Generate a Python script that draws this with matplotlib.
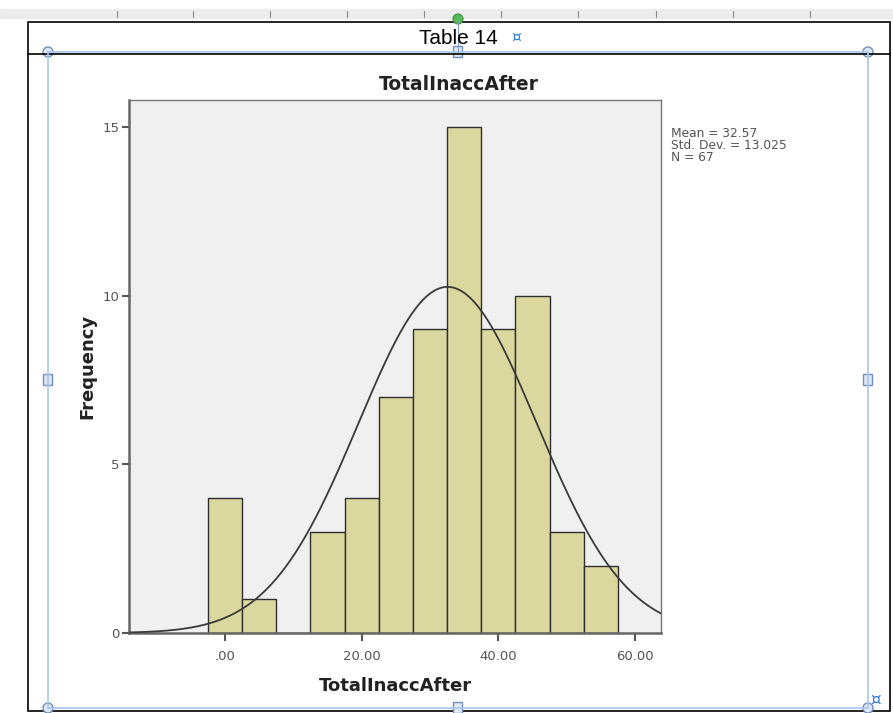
import numpy as np
import matplotlib
matplotlib.use("Agg")
import matplotlib.pyplot as plt
from matplotlib.patches import Rectangle, Circle, FancyBboxPatch

# histogram data (bin width 5, centred on multiples of 5)
bin_centers = [0, 5, 10, 15, 20, 25, 30, 35, 40, 45, 50, 55]
counts = [4, 1, 0, 3, 4, 7, 9, 15, 9, 10, 3, 2]
bin_width = 5
mean_val = 32.57
std_val = 13.025
n_obs = 67
x_ticks = [0, 20, 40, 60]
x_tick_labels = [".00", "20.00", "40.00", "60.00"]
y_ticks = [0, 5, 10, 15]

W, H = 893, 713
fig = plt.figure(figsize=(W / 100, H / 100), dpi=100)
fig.patch.set_facecolor("white")

# page decoration (document frame, ruler, selection handles)
deco = fig.add_axes([0, 0, 1, 1])
deco.set_xlim(0, W)
deco.set_ylim(H, 0)
deco.axis("off")
deco.add_patch(Rectangle((0, 9), W, 9, color="#ececec", zorder=0))
for xr in [117, 193, 270, 347, 424, 501, 578, 656, 733, 810]:
    deco.plot([xr, xr], [11, 17], color="#8a8a8a", lw=0.8)
deco.add_patch(Rectangle((28, 22), 862, 689, fill=False, ec="black", lw=1.2))
deco.plot([28, 890], [54, 54], color="black", lw=1.2)
deco.text(458, 39, "Table 14", ha="center", va="center", fontsize=15,
          family="Liberation Sans", color="black")
deco.text(516, 37, "¤", ha="center", va="center", fontsize=11, color="#2a7be0")
sel = "#a9c6ec"
deco.plot([48, 868, 868, 48, 48], [52, 52, 708, 708, 52], color=sel, lw=1.2)
deco.plot([458, 458], [22, 52], color="#7f9cc4", lw=0.8)
deco.add_patch(Circle((458, 19), 5, fc="#5cb85c", ec="#3e8e3e", lw=0.8))
for cx, cy in [(48, 52), (868, 52), (48, 708), (868, 708)]:
    deco.add_patch(Circle((cx, cy), 5, fc="#dfe8f5", ec="#6f8fbf", lw=1))
for cx, cy in [(458, 52), (48, 380), (868, 380), (458, 708)]:
    deco.add_patch(FancyBboxPatch((cx - 4, cy - 5), 8, 10, boxstyle="round,pad=0.5",
                                  fc="#dfe8f5", ec="#6f8fbf", lw=1))
deco.text(876, 700, "¤", ha="center", va="center", fontsize=12, color="#2a7be0")

# the histogram itself
ax = fig.add_axes([129 / W, 1 - 633 / H, 532 / W, 533 / H])
ax.set_facecolor("#f0f0f0")
ax.bar(bin_centers, counts, width=bin_width, color="#dad89e",
       edgecolor="#2f2f2f", linewidth=1.0, zorder=2)

xs = np.linspace(-14.05, 63.8, 400)
curve = n_obs * bin_width * np.exp(-0.5 * ((xs - mean_val) / std_val) ** 2) / (std_val * np.sqrt(2 * np.pi))
ax.plot(xs, curve, color="#3a3a3a", lw=1.3, zorder=3)

ax.set_xlim(-14.05, 63.8)
ax.set_ylim(0, 15.8)
ax.set_xticks(x_ticks)
ax.set_xticklabels(x_tick_labels)
ax.set_yticks(y_ticks)
ax.tick_params(axis="both", direction="out", color="#555555", labelcolor="#555555",
               labelsize=9.5, width=1.5)
ax.tick_params(axis="x", length=6, pad=6)
ax.tick_params(axis="y", length=5, pad=2)
for s in ax.spines.values():
    s.set_color("#777777")
    s.set_linewidth(1.0)
ax.spines["left"].set_linewidth(1.8)
ax.spines["left"].set_color("#666666")
ax.spines["bottom"].set_linewidth(1.8)
ax.spines["bottom"].set_color("#666666")

ax.set_xlabel("TotalInaccAfter", fontsize=13, fontweight="bold", color="#222222", labelpad=10)
ax.set_ylabel("Frequency", fontsize=13, fontweight="bold", color="#222222", labelpad=4)
fig.text(459 / W, 1 - 84 / H, "TotalInaccAfter", ha="center", va="center",
         fontsize=13.5, fontweight="bold", color="#222222")
fig.text(671 / W, 1 - 127 / H,
         f"Mean = {mean_val:.2f}\nStd. Dev. = {std_val:.3f}\nN = {n_obs}",
         ha="left", va="top", fontsize=8.8, color="#555555", linespacing=0.9)

fig.savefig("out.png", dpi=100)
